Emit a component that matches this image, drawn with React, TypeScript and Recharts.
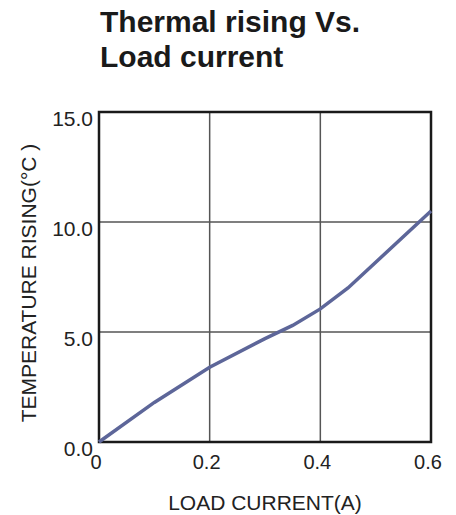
import React from "react";
import {
  LineChart,
  Line,
  XAxis,
  YAxis,
  CartesianGrid,
  ReferenceArea,
  Label,
} from "recharts";

// load current (A) vs. temperature rise (°C)
const currentA = [0, 0.1, 0.2, 0.3, 0.35, 0.4, 0.45, 0.6];
const tempRise = [0, 1.8, 3.4, 4.7, 5.3, 6.05, 7.0, 10.5];

const xTicks = [0, 0.2, 0.4, 0.6];
const yTicks = [0, 5, 10, 15];

const titleLines = ["Thermal rising Vs.", "Load current"];
const xTitle = "LOAD CURRENT(A)";
const yTitle = "TEMPERATURE RISING(°C )";

const data = currentA.map((a, i) => ({ a, t: tempRise[i] }));

const FONT = "'Liberation Sans', Arial, Helvetica, sans-serif";
const INK = "#222";

const YTick = (props: any) => {
  const { x, y, payload } = props;
  return (
    <text x={x} y={y + 7} dy="0.355em" textAnchor="end" fontSize={21} fontFamily={FONT} fill={INK}>
      {payload.value.toFixed(1)}
    </text>
  );
};

const XTick = (props: any) => {
  const { x, y, payload } = props;
  return (
    <text x={x - 3} y={y} dy="0.71em" textAnchor="middle" fontSize={20} fontFamily={FONT} fill={INK}>
      {payload.value === 0 ? "0" : payload.value.toFixed(1)}
    </text>
  );
};

export default function App() {
  return (
    <div style={{ position: "relative", width: 440, height: 507 }}>
      <div
        style={{
          position: "absolute",
          left: 92,
          top: -4,
          fontFamily: FONT,
          fontWeight: "bold",
          fontSize: 30,
          lineHeight: "35px",
          color: "#1a1a1a",
          whiteSpace: "nowrap",
        }}
      >
        {titleLines.map((l) => (
          <div key={l}>{l}</div>
        ))}
      </div>
      <LineChart
        width={440}
        height={507}
        data={data}
        margin={{ top: 104, right: 17, bottom: 0, left: 0 }}
      >
        <CartesianGrid stroke="#555" strokeWidth={1.5} />
        <XAxis
          dataKey="a"
          type="number"
          domain={[0, 0.6]}
          ticks={xTicks}
          height={73}
          axisLine={false}
          tickLine={false}
          tickSize={0}
          tickMargin={13}
          tick={<XTick />}
        >
          <Label
            content={({ viewBox }: any) => (
              <text
                x={viewBox.x + viewBox.width / 2}
                y={viewBox.y + 68}
                textAnchor="middle"
                fontSize={21}
                fontFamily={FONT}
                fill={INK}
              >
                {xTitle}
              </text>
            )}
          />
        </XAxis>
        <YAxis
          type="number"
          domain={[0, 15]}
          ticks={yTicks}
          width={91}
          axisLine={false}
          tickLine={false}
          tickSize={0}
          tickMargin={6}
          tick={<YTick />}
        >
          <Label
            content={({ viewBox }: any) => {
              const cx = 20;
              const cy = viewBox.y + viewBox.height / 2 + 6;
              return (
                <text
                  x={cx}
                  y={cy}
                  transform={`rotate(-90 ${cx} ${cy})`}
                  textAnchor="middle"
                  dominantBaseline="central"
                  fontSize={21}
                  fontFamily={FONT}
                  fill={INK}
                >
                  {yTitle}
                </text>
              );
            }}
          />
        </YAxis>
        <ReferenceArea
          x1={0}
          x2={0.6}
          y1={0}
          y2={15}
          fill="none"
          stroke="#1a1a1a"
          strokeWidth={2.5}
        />
        <Line
          type="linear"
          dataKey="t"
          stroke="#5d6699"
          strokeWidth={3.5}
          dot={false}
          isAnimationActive={false}
        />
      </LineChart>
    </div>
  );
}
